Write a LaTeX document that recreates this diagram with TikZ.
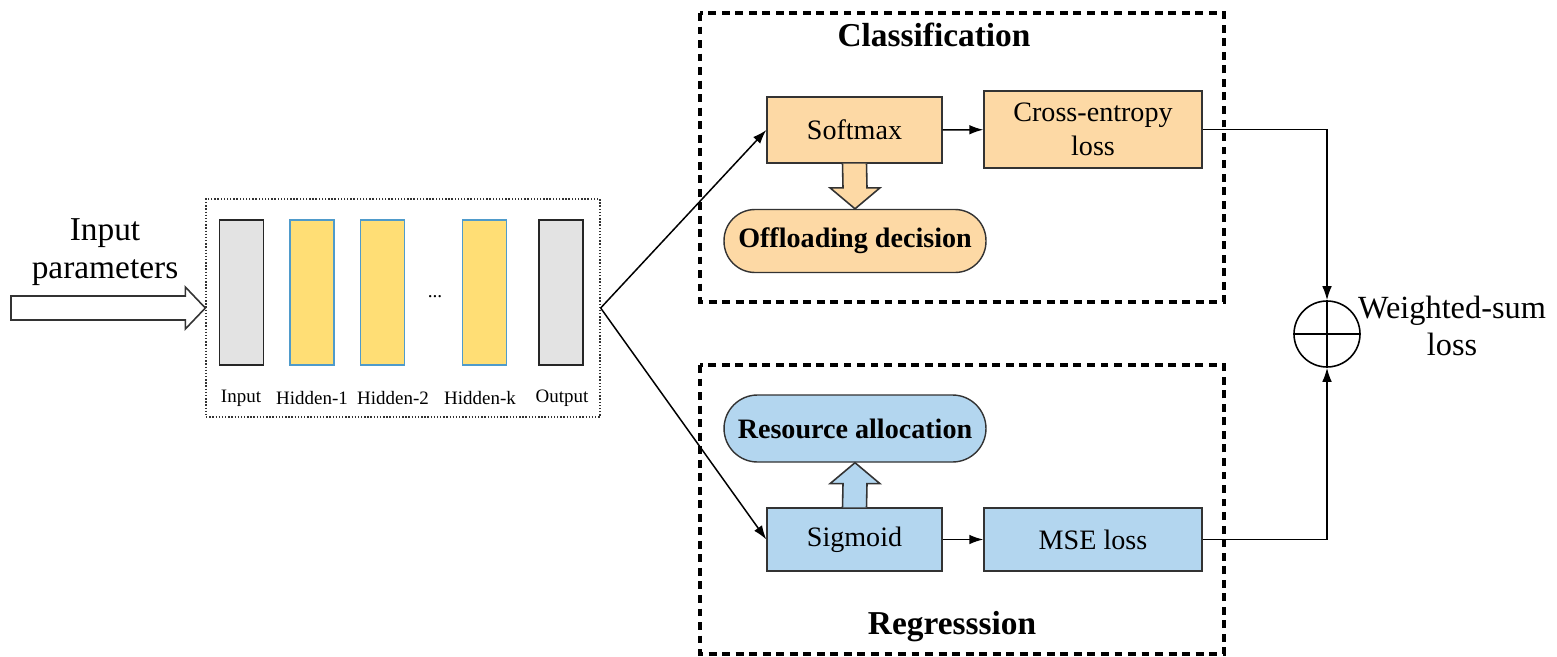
\documentclass[tikz,border=0pt]{standalone}
\usepackage{fontspec}
\setmainfont{Liberation Serif}
\usetikzlibrary{calc, arrows.meta}
\definecolor{clsorange}{HTML}{FDD9A5}
\definecolor{regblue}{HTML}{B3D6EF}
\definecolor{hidyellow}{HTML}{FFDE75}
\definecolor{hidedge}{HTML}{4F9BCB}
\definecolor{layergray}{HTML}{E3E3E3}

\begin{document}
\begin{tikzpicture}[
    x=0.02cm, y=-0.02cm, % one unit = one pixel of the sketch, y grows downwards
    every node/.style={font=\fontsize{16}{19}\selectfont},
    op box/.style={draw=black!80, line width=0.8pt, minimum height=1.32cm, align=center, inner sep=0pt},
    result pill/.style={draw=black!80, line width=0.8pt, rounded corners=0.62cm,
        minimum width=5.24cm, minimum height=1.26cm, font=\fontsize{16}{19}\selectfont\bfseries},
    gray layer/.style={draw=black!85, line width=1pt, fill=layergray, minimum width=0.88cm, minimum height=2.9cm, inner sep=0pt},
    hidden layer/.style={gray layer, draw=hidedge, fill=hidyellow},
    layer label/.style={font=\fontsize{10.8}{13}\selectfont},
    task frame/.style={draw, line width=1.8pt, dash pattern=on 4.5pt off 3.2pt},
    task title/.style={font=\fontsize{19}{22}\selectfont\bfseries},
    flow/.style={-{Latex[length=8pt, width=5.5pt]}, line width=0.85pt},
    fat arrow/.style={draw=black!80, line width=0.9pt}
]
    \useasboundingbox (0,0) rectangle (1557,656);

    % --- 1. NETWORK BLOCK ---
    \node[draw=black!80, densely dotted, line width=0.8pt, minimum width=7.88cm, minimum height=4.36cm] (nnbox) at (403,308) {};

    \foreach \xc/\nm/\st in {241.5/lin/gray layer, 312/lhone/hidden layer, 382.5/lhtwo/hidden layer,
                             484.5/lhk/hidden layer, 561/lout/gray layer}
        \node[\st] (\nm) at (\xc,292.5) {};

    \node (ldots) at (435,297) {\fontsize{11}{13}\selectfont ...};

    \foreach \xc/\nm/\lab in {241/tin/Input, 312/thone/Hidden-1, 393/thtwo/Hidden-2,
                              480/thk/Hidden-k, 562/tout/Output}
        \node[layer label] (\nm) at (\xc,398) {\lab};

    % Input arrow
    \coordinate (intail) at (11,308);
    \draw[fat arrow, fill=white]
        ($(intail)+(0,-12)$) -- ($(nnbox.west)+(-20,-12)$) -- ($(nnbox.west)+(-20,-21)$)
        -- (nnbox.west) -- ($(nnbox.west)+(-20,21)$) -- ($(nnbox.west)+(-20,12)$)
        -- ($(intail)+(0,12)$) -- cycle;
    \node[align=center, font=\fontsize{19}{22}\selectfont] (inlabel) at (105,252) {Input\\parameters};

    % --- 2. CLASSIFICATION BRANCH ---
    \draw[task frame] (700,13) rectangle (1224,302);
    \node[task title] (clstitle) at (934,35) {Classification};

    \node[op box, fill=clsorange, minimum width=3.5cm] (softmax) at (854.5,130) {Softmax};
    \node[op box, fill=clsorange, minimum width=4.36cm, minimum height=1.54cm] (celoss) at (1093,129.5) {Cross-entropy\\loss};
    \node[result pill, fill=clsorange] (offload) at (855,241) {Offloading decision};

    \draw[fat arrow, fill=clsorange]
        ($(softmax.south)+(-12,0)$) -- ($(offload.north)+(-12,-21)$) -- ($(offload.north)+(-25,-21)$)
        -- (offload.north) -- ($(offload.north)+(25,-21)$) -- ($(offload.north)+(12,-21)$)
        -- ($(softmax.south)+(12,0)$);

    % --- 3. REGRESSION BRANCH ---
    \draw[task frame] (700,365) rectangle (1224,654);
    \node[task title] (regtitle) at (952,627) {Regresssion};

    \node[op box, fill=regblue, minimum width=3.5cm, minimum height=1.26cm] (sigmoid) at (854.5,539.5) {Sigmoid};
    \node[op box, fill=regblue, minimum width=4.36cm, minimum height=1.26cm] (mseloss) at (1093,539.5) {MSE loss};
    \node[result pill, fill=regblue, minimum height=1.34cm, rounded corners=0.67cm] (resalloc) at (855,428.5) {Resource allocation};

    \draw[fat arrow, fill=regblue]
        ($(sigmoid.north)+(-12,0)$) -- ($(resalloc.south)+(-12,21)$) -- ($(resalloc.south)+(-25,21)$)
        -- (resalloc.south) -- ($(resalloc.south)+(25,21)$) -- ($(resalloc.south)+(12,21)$)
        -- ($(sigmoid.north)+(12,0)$);

    % --- 4. WEIGHTED SUM ---
    \node[draw, circle, line width=0.9pt, minimum size=1.32cm, inner sep=0pt] (wsum) at (1327,334) {};
    \draw[line width=0.9pt] (wsum.north) -- (wsum.south) (wsum.west) -- (wsum.east);
    \node[align=center, font=\fontsize{18.4}{21.5}\selectfont] (wlabel) at (1452,326) {Weighted-sum\\loss};

    % Connectors
    \draw[flow] (nnbox.east) -- (softmax.west);
    \draw[flow] (nnbox.east) -- (sigmoid.west);
    \draw[flow] (softmax) -- (celoss);
    \draw[flow] (sigmoid) -- (mseloss);
    \draw[flow] (celoss.east) -| (wsum.north);
    \draw[flow] (mseloss.east) -| (wsum.south);

\end{tikzpicture}
\end{document}
